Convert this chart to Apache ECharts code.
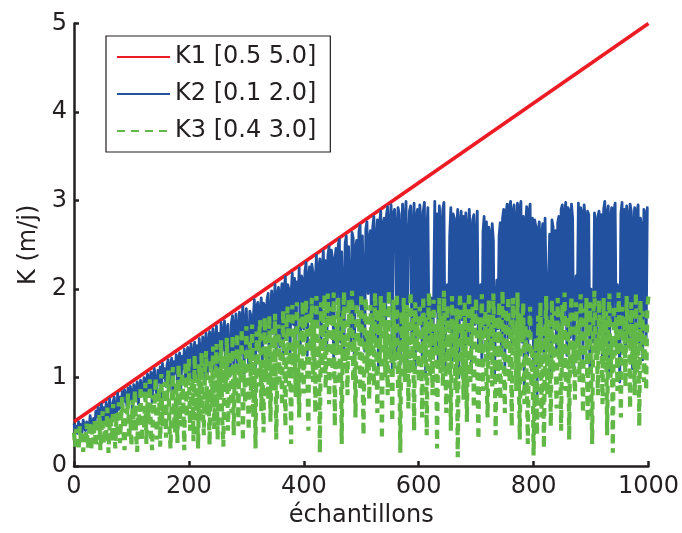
<!DOCTYPE html>
<html>
<head>
<meta charset="utf-8">
<script src="https://cdn.jsdelivr.net/npm/echarts@6/dist/echarts.min.js"></script>
<style>html,body{margin:0;padding:0;background:#fff}#c{width:682px;height:533px}</style>
</head>
<body>
<div id="c"></div>
<script>
// Series names
var seriesNames = ['K1 [0.5 5.0]', 'K2 [0.1 2.0]', 'K3 [0.4 3.0]'];
// Axis ticks
var xTicks = [0, 200, 400, 600, 800, 1000];
var yTicks = [0, 1, 2, 3, 4, 5];
// Sample step for K2/K3 readings (échantillons)
var sampleStep = 2;
// K1: straight line from first to last sample
var k1Samples = [0, 1000];
var k1Values = [0.5, 5.0];
// K2 readings (every 2 samples, 0..1000)
var k2Values = [
  0.48,0.40,0.45,0.37,0.50,0.42,0.47,0.38,0.52,0.44,0.40,0.50,0.46,0.39,0.57,0.48,0.43,0.54,0.41,0.62,
  0.56,0.66,0.50,0.62,0.70,0.52,0.66,0.48,0.72,0.60,0.54,0.76,0.64,0.50,0.72,0.78,0.58,0.52,0.82,0.64,
  0.78,0.66,0.84,0.72,0.86,0.80,0.68,0.88,0.74,0.90,0.82,0.64,0.92,0.78,0.86,0.95,0.70,0.90,0.97,0.80,
  0.86,1.00,0.74,0.96,1.04,0.82,0.98,1.06,0.72,1.02,1.10,0.88,0.80,1.08,0.95,1.12,0.78,1.16,1.00,1.10,
  0.90,1.15,1.20,0.86,1.10,1.22,0.82,1.18,1.05,1.26,0.92,1.20,1.28,0.88,1.24,1.10,1.32,0.95,1.25,1.34,
  1.00,1.30,1.38,0.95,1.25,1.40,1.05,1.36,0.92,1.44,1.28,1.10,1.46,0.98,1.40,1.50,1.02,1.35,1.52,1.15,
  1.45,1.55,1.05,1.40,1.58,1.12,1.50,1.00,1.62,1.30,1.48,1.64,1.08,1.55,1.60,1.20,1.02,1.62,1.70,1.15,
  1.55,1.72,1.10,1.50,1.74,1.25,1.65,1.80,1.05,1.62,1.78,1.35,1.15,1.75,1.70,1.20,1.66,1.88,1.12,1.80,
  1.85,1.30,1.72,1.90,1.15,1.84,1.80,1.40,1.88,1.95,1.12,1.70,1.98,1.50,1.82,2.05,1.25,1.92,2.02,1.35,
  1.90,2.06,1.20,2.02,2.14,1.45,2.05,2.00,1.25,1.95,2.18,1.60,2.12,1.18,2.08,1.85,2.24,1.35,2.15,2.10,
  1.55,2.20,2.30,1.25,2.12,2.25,1.70,2.28,2.18,1.20,2.10,2.38,1.60,2.22,2.34,1.35,2.20,2.43,1.85,2.32,
  1.30,2.38,2.48,1.65,2.44,2.35,1.20,2.30,2.46,1.90,2.50,2.56,1.40,2.42,2.40,1.25,2.52,2.60,1.75,2.48,
  2.50,1.35,2.64,2.58,1.20,2.45,2.55,1.80,2.65,2.72,1.45,2.60,2.58,1.30,2.68,2.76,1.95,2.55,2.66,1.30,
  2.70,2.82,1.40,2.55,2.78,1.10,2.75,2.88,1.60,2.72,2.80,1.25,2.84,2.93,1.85,2.70,2.95,1.05,2.85,2.90,
  2.70,1.30,2.92,2.85,1.15,2.60,2.96,1.50,2.78,2.99,1.20,2.50,2.88,2.94,1.40,2.70,2.97,1.10,2.82,2.90,
  1.60,2.95,2.75,1.25,2.88,2.98,1.05,2.65,2.92,1.45,1.70,1.90,1.30,1.80,2.99,1.75,2.85,1.15,2.94,2.70,
  1.35,2.90,2.98,1.10,1.85,2.05,1.55,2.60,2.92,1.20,2.85,2.80,1.40,2.68,2.90,1.00,2.75,2.88,1.65,2.82,
  1.25,2.86,2.70,1.45,2.90,2.60,1.05,2.78,2.84,1.60,2.55,2.88,1.30,1.95,2.05,1.15,2.65,2.82,1.50,2.76,
  1.20,2.70,2.62,1.40,2.74,2.55,0.95,1.75,2.10,1.55,2.60,2.75,1.25,2.80,2.90,1.10,2.85,2.96,1.45,2.92,
  2.99,1.30,2.88,2.95,1.60,2.75,2.97,1.15,2.90,2.99,1.40,2.82,0.85,2.70,2.93,1.25,2.86,2.96,1.50,2.80,
  1.10,2.78,2.70,0.72,2.65,2.76,1.45,2.60,2.74,1.20,2.80,1.95,1.35,2.10,2.62,1.05,2.78,2.70,1.55,2.66,
  1.30,2.75,2.82,1.15,2.90,2.95,1.60,2.85,2.98,1.25,2.92,2.88,1.45,2.96,2.80,1.05,1.90,2.15,1.70,2.97,
  1.35,2.92,2.86,1.20,2.95,2.78,1.50,2.88,2.84,1.10,2.00,1.85,1.40,2.86,2.75,1.25,2.82,2.88,1.55,2.84,
  1.15,2.90,2.99,1.45,2.86,2.94,1.05,2.80,2.92,1.60,2.88,2.97,1.30,2.05,1.90,0.95,2.85,2.98,1.50,2.90,
  1.25,2.94,2.82,1.40,2.96,2.88,1.10,2.72,2.92,1.55,2.86,2.95,1.35,2.80,2.70,1.20,2.90,2.86,1.45,2.92,
  2.92
];
// K3 readings (every 2 samples, 0..1000)
var k3Values = [
  0.38,0.22,0.42,0.30,0.18,0.45,0.28,0.35,0.16,0.40,0.25,0.48,0.20,0.33,0.50,0.18,0.42,0.27,0.52,0.22,
  0.45,0.30,0.58,0.18,0.40,0.62,0.25,0.50,0.35,0.66,0.15,0.44,0.55,0.28,0.70,0.38,0.20,0.60,0.32,0.72,
  0.26,0.55,0.78,0.40,0.18,0.65,0.48,0.82,0.30,0.58,0.22,0.75,0.45,0.86,0.35,0.16,0.68,0.52,0.90,0.28,
  0.60,0.42,0.94,0.25,0.72,0.55,0.98,0.35,0.18,0.80,0.62,1.00,0.30,0.50,0.88,0.22,1.04,0.45,0.70,0.95,
  0.32,0.85,1.08,0.48,0.20,0.76,1.12,0.58,0.38,0.95,0.26,1.15,0.65,0.45,1.05,0.82,0.18,1.18,0.55,0.90,
  1.22,0.40,0.78,1.00,0.28,1.25,0.62,0.88,0.20,1.15,0.50,1.28,0.72,0.35,1.05,1.30,0.58,0.85,0.24,1.20,
  0.68,1.35,0.42,0.95,1.38,0.30,1.10,0.75,1.42,0.52,0.22,1.25,0.88,1.45,0.40,1.00,1.30,0.60,1.48,0.35,
  1.15,0.80,1.50,0.45,1.30,0.95,1.55,0.28,1.20,0.70,1.58,1.05,0.40,1.40,0.85,1.60,0.55,1.25,0.20,1.52,
  0.90,1.45,1.65,0.62,1.20,0.38,1.68,1.00,1.35,0.75,1.70,0.50,1.28,1.55,0.85,1.72,0.30,1.10,1.60,0.95,
  1.40,0.68,1.76,1.15,0.45,1.62,1.80,0.90,1.30,0.25,1.82,1.05,1.50,0.78,1.85,1.20,0.55,1.70,1.00,1.86,
  0.82,1.55,1.88,1.10,0.40,1.75,1.30,1.90,0.95,1.60,0.60,1.92,1.20,1.45,0.15,1.85,1.05,1.68,1.93,0.88,
  1.50,1.95,0.70,1.25,1.80,1.00,1.96,0.45,1.62,1.35,1.90,0.92,1.72,0.25,1.55,1.97,1.10,1.40,0.80,1.88,
  1.20,1.65,1.98,0.95,1.45,0.55,1.85,1.30,1.75,0.85,1.95,1.10,0.35,1.60,1.90,1.05,1.50,0.75,1.82,1.25,
  1.70,0.90,1.96,1.40,0.60,1.78,1.15,1.92,0.30,1.55,1.85,1.00,1.65,0.80,1.98,1.25,1.45,0.50,1.88,1.10,
  1.60,1.95,0.85,1.35,0.15,1.75,1.20,1.90,0.95,1.50,1.82,0.65,1.40,1.97,1.05,1.70,0.40,1.85,1.30,1.62,
  0.95,1.80,1.45,0.55,1.92,1.15,1.68,0.35,1.55,1.96,1.00,1.75,0.80,1.88,1.25,1.60,0.20,1.45,1.90,1.05,
  1.70,0.90,1.98,1.30,0.60,1.82,1.10,1.55,0.40,1.92,1.20,1.65,0.85,1.78,0.10,1.40,1.95,1.00,1.60,0.75,
  1.85,1.25,0.50,1.72,1.96,0.95,1.45,1.80,0.65,1.58,1.90,1.10,0.30,1.68,1.35,1.94,0.85,1.50,1.75,1.00,
  0.55,1.88,1.20,1.62,0.90,1.95,1.40,0.35,1.70,1.05,1.85,0.75,1.52,1.98,1.15,0.60,1.78,1.30,1.92,0.95,
  1.65,0.45,1.90,1.25,1.55,0.85,1.96,1.10,0.30,1.72,1.40,1.85,0.70,1.60,1.00,0.25,1.50,1.80,0.90,1.35,
  0.12,0.95,1.45,0.35,1.70,1.10,1.85,0.55,1.60,0.20,1.40,1.92,0.80,1.65,1.25,0.45,1.88,1.05,1.75,1.30,
  0.65,1.90,1.20,1.55,0.40,1.82,1.00,1.96,0.85,1.48,1.70,0.30,1.60,1.92,1.10,1.35,0.75,1.85,1.25,1.65,
  0.95,1.94,1.40,0.60,1.78,1.15,1.90,0.50,1.55,1.85,1.05,0.25,1.70,1.98,1.20,1.45,0.80,1.88,1.30,1.62,
  0.70,1.90,1.10,1.75,0.35,1.58,1.95,1.00,1.45,0.15,1.82,1.25,1.68,0.85,1.96,1.35,0.55,1.80,1.15,1.60,
  0.90,1.92,1.40,1.70,0.65,1.85,1.20,1.55,0.80,1.96,1.05,1.62,0.45,1.88,1.30,1.75,0.95,1.50,0.85,1.80,
  1.92
];

function pairs(vals) {
  return vals.map(function (v, i) { return [i * sampleStep, v]; });
}
var k1Data = k1Samples.map(function (s, i) { return [s, k1Values[i]]; });

var txt = '#231f20';
var font = '"DejaVu Sans", sans-serif';
var chart = echarts.init(document.getElementById('c'), null, {renderer: 'canvas'});
chart.setOption({
  animation: false,
  backgroundColor: '#fff',
  grid: {left: 74, right: 33, top: 23.5, bottom: 61, containLabel: false},
  legend: {
    orient: 'vertical', left: 106, top: 36,
    backgroundColor: '#fff', borderColor: txt, borderWidth: 1.2,
    padding: [7, 14, 7, 10],
    itemWidth: 53, itemHeight: 14, itemGap: 9,
    itemStyle: {opacity: 0},
    textStyle: {fontSize: 24, lineHeight: 28, color: txt, fontFamily: font},
    data: seriesNames
  },
  xAxis: {
    type: 'value', min: xTicks[0], max: xTicks[xTicks.length - 1], interval: 200,
    name: 'échantillons', nameLocation: 'middle', nameGap: 33,
    nameTextStyle: {fontSize: 24, color: txt, fontFamily: font},
    axisLine: {lineStyle: {color: txt, width: 2.5}},
    axisTick: {inside: true, length: 5, lineStyle: {color: txt, width: 2.5}},
    axisLabel: {fontSize: 24, color: txt, fontFamily: font, margin: 9,
      formatter: function (v) { return String(v); }},
    splitLine: {show: false}
  },
  yAxis: {
    type: 'value', min: yTicks[0], max: yTicks[yTicks.length - 1], interval: 1,
    name: 'K (m/j)', nameLocation: 'middle', nameGap: 33, nameRotate: 90,
    nameTextStyle: {fontSize: 24, color: txt, fontFamily: font},
    axisLine: {show: true, lineStyle: {color: txt, width: 2.5}},
    axisTick: {show: true, inside: true, length: 5, lineStyle: {color: txt, width: 2.5}},
    axisLabel: {fontSize: 24, color: txt, fontFamily: font, margin: 7},
    splitLine: {show: false}
  },
  series: [
    {name: seriesNames[0], type: 'line', data: k1Data, symbol: 'none',
     lineStyle: {color: '#ed1c24', width: 3.6}, itemStyle: {color: '#ed1c24'}},
    {name: seriesNames[1], type: 'line', data: pairs(k2Values), symbol: 'none',
     lineStyle: {color: '#2251a0', width: 2.8, join: 'round'}, itemStyle: {color: '#2251a0'}},
    {name: seriesNames[2], type: 'line', data: pairs(k3Values), symbol: 'none',
     lineStyle: {color: '#62b846', width: 4.2, type: [8, 6]}, itemStyle: {color: '#62b846'}}
  ]
});
</script>
</body>
</html>
